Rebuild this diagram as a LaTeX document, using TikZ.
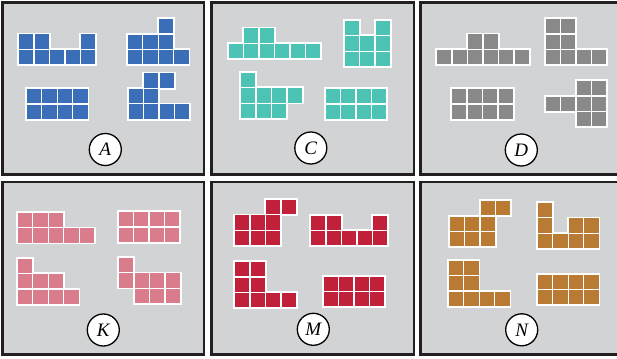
\documentclass[tikz,border=0pt]{standalone}
\usepackage{fontspec}
\setmainfont{Liberation Serif}
\definecolor{bgc}{RGB}{209,211,212}
\definecolor{bordc}{RGB}{35,31,32}
\definecolor{cblue}{RGB}{58,110,182}
\definecolor{cteal}{RGB}{76,195,181}
\definecolor{cgray}{RGB}{137,137,137}
\definecolor{cpink}{RGB}{217,124,140}
\definecolor{cred}{RGB}{192,32,58}
\definecolor{cbrown}{RGB}{185,122,51}
\def\tsz{15.5}
\newcommand{\tile}[4]{%
  \begin{scope}[shift={(#1,#2)}]
    \foreach \c/\r in {#4}
      \fill[white] (\c*\tsz,\r*\tsz) rectangle (\c*\tsz+\tsz+2.4,\r*\tsz+\tsz+2.4);
    \foreach \c/\r in {#4}
      \fill[#3] (\c*\tsz+1.8,\r*\tsz+1.8) rectangle (\c*\tsz+\tsz+0.6,\r*\tsz+\tsz+0.6);
  \end{scope}}
\tikzset{
  panel/.style={fill=bgc, draw=bordc, line width=2.7pt},
  lbl/.style={circle, draw=black, line width=1.3pt, fill=white, minimum size=32pt,
    inner sep=0pt, font=\fontsize{19}{19}\selectfont\itshape}
}
\begin{document}
\begin{tikzpicture}[x=1pt,y=-1pt]
\useasboundingbox (0,0) rectangle (617,358);
% panels
\draw[panel] (2.35,2.35) rectangle (204,174.4);
\draw[panel] (211.3,2.35) rectangle (414,174.4);
\draw[panel] (420.7,2.35) rectangle (619,174.4);
\draw[panel] (2.35,182) rectangle (204,354.3);
\draw[panel] (211.3,182) rectangle (414,354.3);
\draw[panel] (420.7,182) rectangle (619,354.3);
% A
\tile{17.3}{32.7}{cblue}{0/0,1/0,4/0,0/1,1/1,2/1,3/1,4/1}
\tile{126}{17.3}{cblue}{2/0,0/1,1/1,2/1,0/2,1/2,2/2,3/2}
\tile{25}{87.3}{cblue}{0/0,1/0,2/0,3/0,0/1,1/1,2/1,3/1}
\tile{126.7}{71.7}{cblue}{1/0,2/0,0/1,1/1,0/2,1/2,2/2,3/2}
% C
\tile{226.7}{26.7}{cteal}{1/0,2/0,0/1,1/1,2/1,3/1,4/1,5/1}
\tile{342.7}{19}{cteal}{0/0,2/0,0/1,1/1,2/1,0/2,1/2,2/2}
\tile{239.3}{71}{cteal}{0/0,0/1,1/1,2/1,3/1,0/2,1/2,2/2}
\tile{323.7}{87.3}{cteal}{0/0,1/0,2/0,3/0,0/1,1/1,2/1,3/1}
% D
\tile{435.3}{32.7}{cgray}{2/0,3/0,0/1,1/1,2/1,3/1,4/1,5/1}
\tile{543.7}{17.3}{cgray}{0/0,1/0,0/1,1/1,0/2,1/2,2/2,3/2}
\tile{450.3}{87.3}{cgray}{0/0,1/0,2/0,3/0,0/1,1/1,2/1,3/1}
\tile{543.7}{79.3}{cgray}{2/0,3/0,0/1,1/1,2/1,3/1,2/2,3/2}
% K
\tile{16}{211}{cpink}{0/0,1/0,2/0,0/1,1/1,2/1,3/1,4/1}
\tile{116.7}{210.3}{cpink}{0/0,1/0,2/0,3/0,0/1,1/1,2/1,3/1}
\tile{16}{256.7}{cpink}{0/0,0/1,1/1,2/1,0/2,1/2,2/2,3/2}
\tile{117.3}{256}{cpink}{0/0,0/1,1/1,2/1,3/1,1/2,2/2,3/2}
% M
\tile{233.3}{198}{cred}{2/0,3/0,0/1,1/1,2/1,0/2,1/2,2/2}
\tile{309.3}{213.7}{cred}{0/0,1/0,4/0,0/1,1/1,2/1,3/1,4/1}
\tile{233.3}{260.3}{cred}{0/0,1/0,0/1,1/1,0/2,1/2,2/2,3/2}
\tile{321.7}{274.7}{cred}{0/0,1/0,2/0,3/0,0/1,1/1,2/1,3/1}
% N
\tile{447.7}{199.3}{cbrown}{2/0,3/0,0/1,1/1,2/1,0/2,1/2,2/2}
\tile{536}{201}{cbrown}{0/0,0/1,2/1,3/1,0/2,1/2,2/2,3/2}
\tile{447}{258.7}{cbrown}{0/0,1/0,0/1,1/1,0/2,1/2,2/2,3/2}
\tile{536}{272.7}{cbrown}{0/0,1/0,2/0,3/0,0/1,1/1,2/1,3/1}
% labels
\node[lbl] (labA) at (105.3,149.5) {A};
\node[lbl] (labC) at (310.8,148) {C};
\node[lbl] (labD) at (521.3,150) {D};
\node[lbl] (labK) at (103.3,330) {K};
\node[lbl] (labM) at (313.3,329.3) {M};
\node[lbl] (labN) at (521.7,329.8) {N};
\end{tikzpicture}
\end{document}
